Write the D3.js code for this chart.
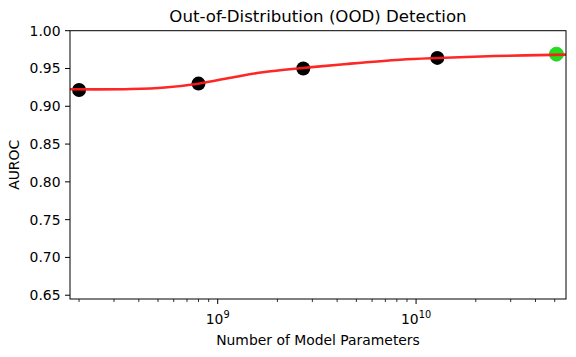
<!DOCTYPE html>
<html>
<head>
<meta charset="utf-8">
<script src="https://cdn.jsdelivr.net/npm/d3@7"></script>
<style>
  body { margin: 0; background: #fff; }
  svg { font-family: "DejaVu Sans", sans-serif; }
</style>
</head>
<body>
<div id="chart"></div>
<script>
// model sizes (parameters) and their AUROC scores
const modelParams = [2.0e8, 8.0e8, 2.7e9, 1.28e10, 5.1e10];
const aurocScores = [0.9216, 0.930, 0.950, 0.964, 0.969];
const highlightIndex = 4; // last model shown in green

// fitted trend
const fitParams = [1.8e8, 3.68e8, 5.42e8, 7.95e8, 1.22e9, 1.69e9, 2.7e9, 4.48e9, 8.34e9, 1.29e10, 2.51e10, 5.7e10];
const fitScores = [0.9225, 0.9228, 0.9248, 0.9299, 0.9388, 0.945, 0.9507, 0.956, 0.9616, 0.9639, 0.9665, 0.9683];

const yTicks = [0.65, 0.70, 0.75, 0.80, 0.85, 0.90, 0.95, 1.00];
const xMajorTicks = [1e9, 1e10];
const xMinorTicks = [2e8, 3e8, 4e8, 5e8, 6e8, 7e8, 8e8, 9e8,
  2e9, 3e9, 4e9, 5e9, 6e9, 7e9, 8e9, 9e9, 2e10, 3e10, 4e10, 5e10];

const width = 576, height = 357;
const axLeft = 70, axRight = 566, axTop = 30.7, axBottom = 299;

var svg = d3.select("#chart").append("svg")
  .attr("width", width)
  .attr("height", height);

var x = d3.scaleLog().domain([1.8e8, 5.7e10]).range([axLeft, axRight]);
var y = d3.scaleLinear().domain([0.645, 1.0]).range([axBottom, axTop]);

// clip so the curve stays inside the axes
svg.append("clipPath").attr("id", "clip")
  .append("rect")
  .attr("x", axLeft).attr("y", axTop)
  .attr("width", axRight - axLeft).attr("height", axBottom - axTop);

var plot = svg.append("g").attr("clip-path", "url(#clip)");

// black dots under the line
plot.selectAll("circle.pt")
  .data(modelParams.map((p, i) => [p, aurocScores[i], i]).filter(d => d[2] !== highlightIndex))
  .enter()
  .append("circle")
  .attr("class", "pt")
  .attr("cx", d => x(d[0]))
  .attr("cy", d => y(d[1]))
  .attr("r", 7)
  .attr("fill", "#000");

plot.append("circle")
  .attr("cx", x(modelParams[highlightIndex]))
  .attr("cy", y(aurocScores[highlightIndex]))
  .attr("r", 7)
  .attr("fill", "#1ee01e")
  .attr("stroke", "#22c41a")
  .attr("stroke-width", 0.8);

var line = d3.line()
  .x(d => x(d[0]))
  .y(d => y(d[1]))
  .curve(d3.curveCatmullRom);

plot.append("path")
  .datum(fitParams.map((p, i) => [p, fitScores[i]]))
  .attr("d", line)
  .attr("fill", "none")
  .attr("stroke", "#ff1a1a")
  .attr("stroke-opacity", 0.95)
  .attr("stroke-width", 2.6);

// frame
svg.append("rect")
  .attr("x", axLeft).attr("y", axTop)
  .attr("width", axRight - axLeft).attr("height", axBottom - axTop)
  .attr("fill", "none")
  .attr("stroke", "#000")
  .attr("stroke-width", 1);

// y axis ticks
var yt = svg.append("g");
yt.selectAll("line")
  .data(yTicks)
  .enter()
  .append("line")
  .attr("x1", axLeft - 5).attr("x2", axLeft)
  .attr("y1", d => y(d)).attr("y2", d => y(d))
  .attr("stroke", "#000");
yt.selectAll("text")
  .data(yTicks)
  .enter()
  .append("text")
  .attr("x", axLeft - 9.5)
  .attr("y", d => y(d))
  .attr("dy", "0.36em")
  .attr("text-anchor", "end")
  .style("font-size", "13.9px")
  .text(d => d.toFixed(2));

// x axis ticks
var xt = svg.append("g");
xt.selectAll("line.major")
  .data(xMajorTicks)
  .enter()
  .append("line")
  .attr("class", "major")
  .attr("x1", d => x(d)).attr("x2", d => x(d))
  .attr("y1", axBottom).attr("y2", axBottom + 5)
  .attr("stroke", "#000");
xt.selectAll("line.minor")
  .data(xMinorTicks)
  .enter()
  .append("line")
  .attr("class", "minor")
  .attr("x1", d => x(d)).attr("x2", d => x(d))
  .attr("y1", axBottom).attr("y2", axBottom + 3)
  .attr("stroke", "#000")
  .attr("stroke-width", 0.8);

var xl = xt.selectAll("text")
  .data(xMajorTicks)
  .enter()
  .append("text")
  .attr("x", d => x(d))
  .attr("y", axBottom + 25)
  .attr("text-anchor", "middle")
  .style("font-size", "13.9px");
xl.append("tspan").text("10");
xl.append("tspan")
  .attr("dy", -6.5)
  .style("font-size", "9.8px")
  .text(d => Math.round(Math.log10(d)));

// labels
svg.append("text")
  .attr("x", (axLeft + axRight) / 2)
  .attr("y", 22)
  .attr("text-anchor", "middle")
  .style("font-size", "16.6px")
  .text("Out-of-Distribution (OOD) Detection");

svg.append("text")
  .attr("x", (axLeft + axRight) / 2)
  .attr("y", 345)
  .attr("text-anchor", "middle")
  .style("font-size", "13.9px")
  .text("Number of Model Parameters");

svg.append("text")
  .attr("transform", `translate(19, ${(axTop + axBottom) / 2}) rotate(-90)`)
  .attr("text-anchor", "middle")
  .style("font-size", "13.9px")
  .text("AUROC");
</script>
</body>
</html>
